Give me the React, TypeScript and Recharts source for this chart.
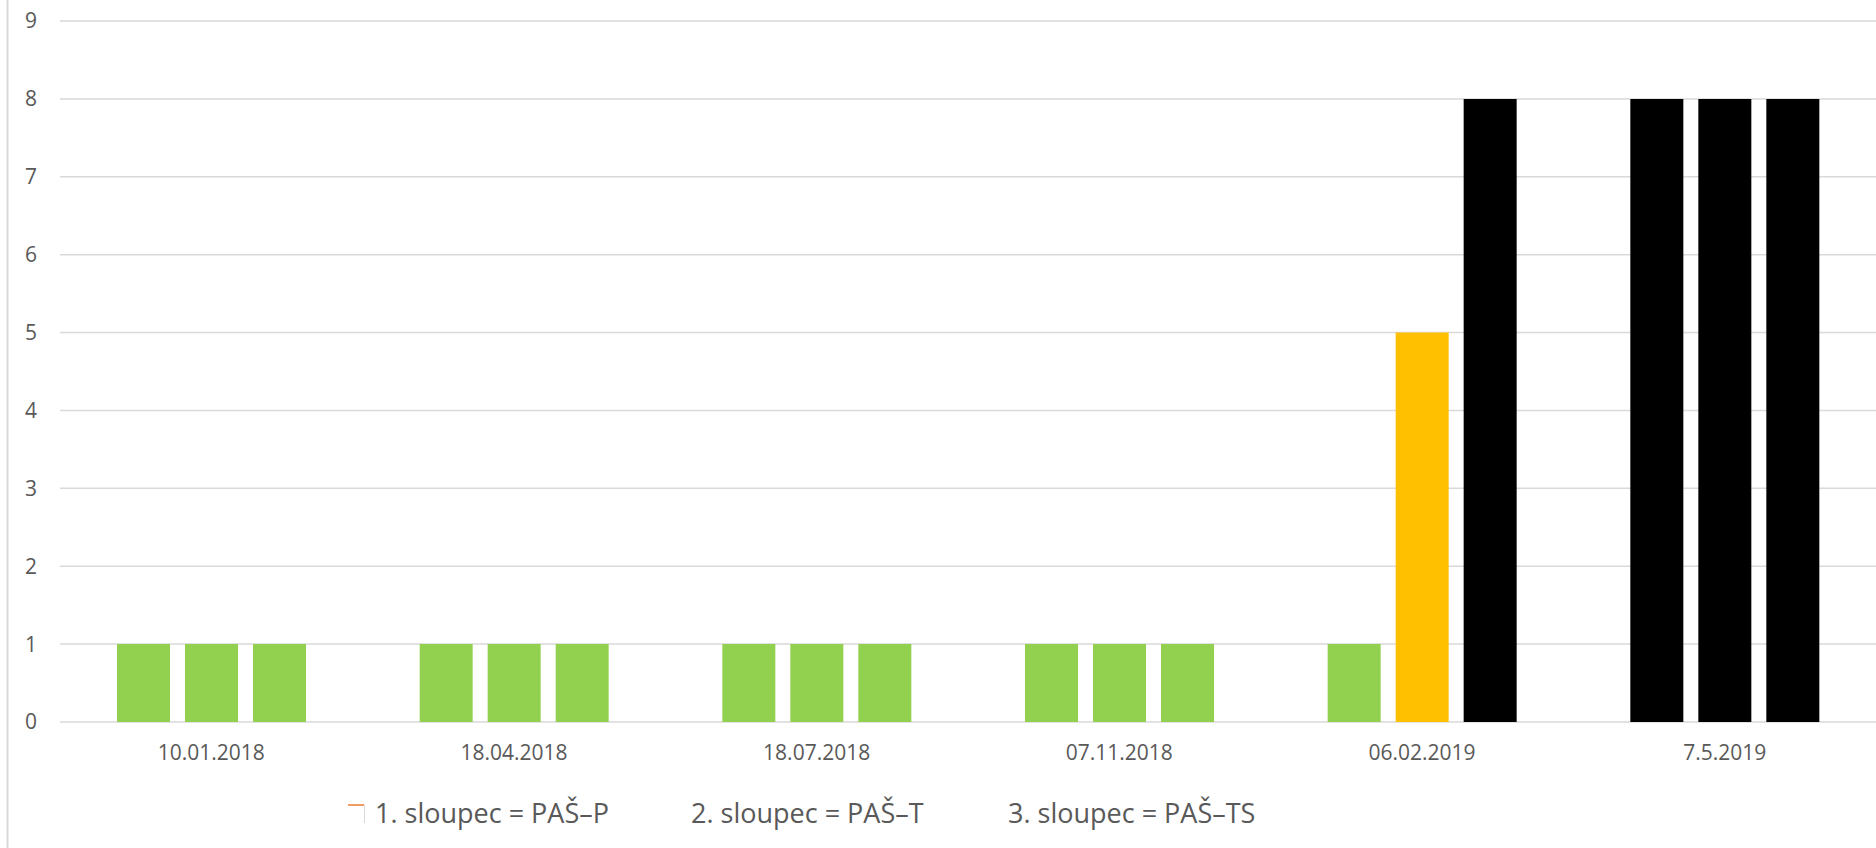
import { BarChart, Bar, XAxis, YAxis, CartesianGrid, Cell } from 'recharts'

const dates = ['10.01.2018', '18.04.2018', '18.07.2018', '07.11.2018', '06.02.2019', '7.5.2019']
const col1 = [1, 1, 1, 1, 1, 8]
const col2 = [1, 1, 1, 1, 5, 8]
const col3 = [1, 1, 1, 1, 8, 8]
const yTicks = [0, 1, 2, 3, 4, 5, 6, 7, 8, 9]
const legendLabels = ['1. sloupec = PAŠ–P', '2. sloupec = PAŠ–T', '3. sloupec = PAŠ–TS']

const data = dates.map((date, i) => ({ date, c1: col1[i], c2: col2[i], c3: col3[i] }))

const GREEN = '#92d050'
const ORANGE = '#ffc000'
const BLACK = '#000000'
const TEXT = '#595959'
const GRID = '#d9d9d9'
const FONT = '"Open Sans", sans-serif'

// colour follows the level of the bar
const fillFor = (v: number) => (v >= 8 ? BLACK : v >= 5 ? ORANGE : GREEN)

const W = 1876
const H = 848

const legendX = [375, 691, 1008]

export default function App() {
  const series = ['c1', 'c2', 'c3']
  return (
    <div style={{ position: 'absolute', left: 0, top: 0, width: W, height: H, background: '#fff' }}>
      <BarChart
        width={W}
        height={H}
        data={data}
        margin={{ top: 21, right: 0, left: 0, bottom: 0 }}
        barCategoryGap={57}
        barGap={15}
      >
        <CartesianGrid vertical={false} stroke={GRID} strokeWidth={1.5} />
        <XAxis
          dataKey="date"
          interval={0}
          height={126}
          axisLine={false}
          tickLine={false}
          tickSize={0}
          tickMargin={23}
          tick={{ fontSize: 21, fill: TEXT, fontFamily: FONT }}
        />
        <YAxis
          domain={[0, 9]}
          ticks={yTicks}
          interval={0}
          width={60}
          axisLine={false}
          tickLine={false}
          tickSize={0}
          tickMargin={23}
          tick={{ fontSize: 21, fill: TEXT, fontFamily: FONT }}
        />
        {series.map((key) => (
          <Bar key={key} dataKey={key} isAnimationActive={false}>
            {data.map((d, i) => (
              <Cell key={i} fill={fillFor((d as any)[key])} />
            ))}
          </Bar>
        ))}
      </BarChart>
      <svg
        width={W}
        height={H}
        style={{ position: 'absolute', left: 0, top: 0, pointerEvents: 'none' }}
      >
        <line x1={7.5} y1={0} x2={7.5} y2={H} stroke={GRID} strokeWidth={2} />
        <line x1={348} y1={805} x2={364} y2={805} stroke="#ed7d31" strokeWidth={1.5} />
        <line x1={364.5} y1={805} x2={364.5} y2={823} stroke={GRID} strokeWidth={1} />
        {legendLabels.map((t, i) => (
          <text key={t} x={legendX[i]} y={823} fontSize={27} fill={TEXT} fontFamily={FONT}>
            {t}
          </text>
        ))}
      </svg>
    </div>
  )
}
